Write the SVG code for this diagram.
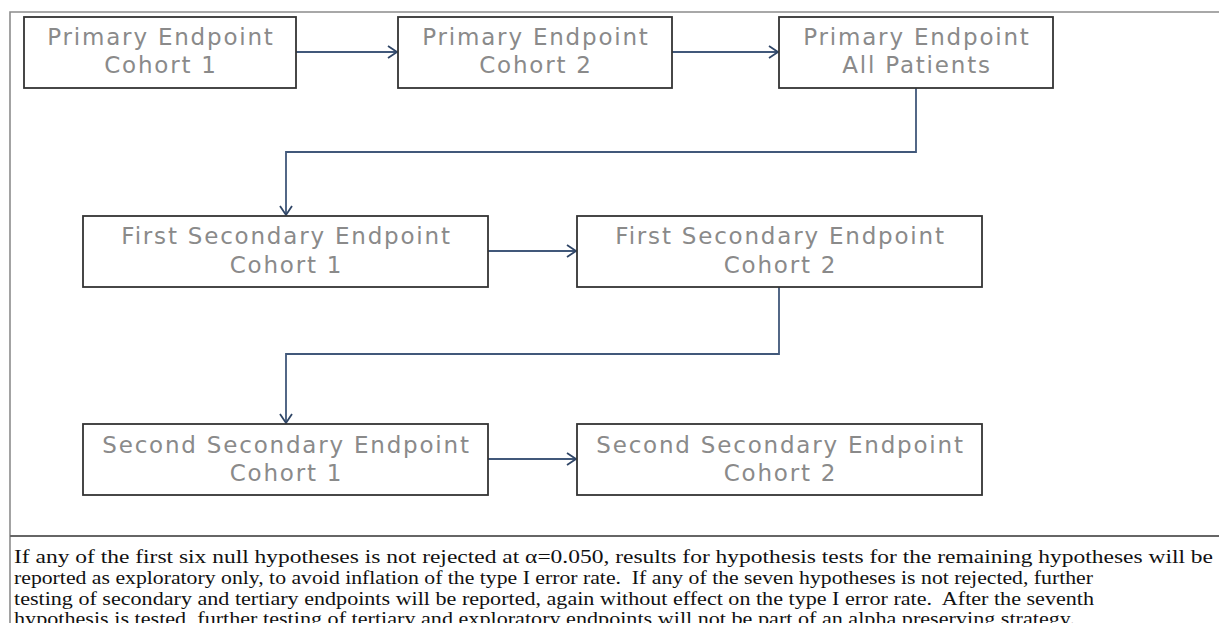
<svg xmlns="http://www.w3.org/2000/svg" width="1219" height="623" viewBox="0 0 1219 623">
<style>
.box{fill:#fff;stroke:#333;stroke-width:1.8}
.lbl{font-family:"DejaVu Sans","Liberation Sans",sans-serif;font-size:23px;letter-spacing:1.8px;fill:#8a8a8a;text-anchor:middle}
.conn{fill:none;stroke:#41587a;stroke-width:1.8}
.note{font-family:"Liberation Serif","Times New Roman",serif;font-size:18.5px;fill:#111}
.frame{stroke:#8c8c8c;stroke-width:1.6;fill:none}
</style>
<defs>
<marker id="arr" markerUnits="userSpaceOnUse" markerWidth="12" markerHeight="14" refX="10" refY="7" orient="auto">
<path d="M1,1 L10,7 L1,13" fill="none" stroke="#2f4566" stroke-width="1.8"/>
</marker>
</defs>
<rect width="1219" height="623" fill="#fff"/>
<g id="frame">
<path class="frame" d="M10,623 V12 H1219"/>
<path d="M10,536 H1219" stroke="#666" stroke-width="2"/>
</g>
<g id="connectors">
<path class="conn" d="M296,52 H397" marker-end="url(#arr)"/>
<path class="conn" d="M672,52 H778" marker-end="url(#arr)"/>
<path class="conn" d="M916,88 V152 H286 V215" marker-end="url(#arr)"/>
<path class="conn" d="M488,251 H576" marker-end="url(#arr)"/>
<path class="conn" d="M779,287 V354 H286 V423" marker-end="url(#arr)"/>
<path class="conn" d="M488,459 H576" marker-end="url(#arr)"/>
</g>
<g id="n1"><rect class="box" x="24" y="17" width="272" height="71"/><text class="lbl" x="161" y="45">Primary Endpoint</text><text class="lbl" x="161" y="73">Cohort 1</text></g>
<g id="n2"><rect class="box" x="398" y="17" width="274" height="71"/><text class="lbl" x="536" y="45">Primary Endpoint</text><text class="lbl" x="536" y="73">Cohort 2</text></g>
<g id="n3"><rect class="box" x="779" y="17" width="274" height="71"/><text class="lbl" x="917" y="45">Primary Endpoint</text><text class="lbl" x="917" y="73">All Patients</text></g>
<g id="n4"><rect class="box" x="83" y="216" width="405" height="71"/><text class="lbl" x="286.5" y="244">First Secondary Endpoint</text><text class="lbl" x="286.5" y="273">Cohort 1</text></g>
<g id="n5"><rect class="box" x="577" y="216" width="405" height="71"/><text class="lbl" x="780.5" y="244">First Secondary Endpoint</text><text class="lbl" x="780.5" y="273">Cohort 2</text></g>
<g id="n6"><rect class="box" x="83" y="424" width="405" height="71"/><text class="lbl" x="286.5" y="453">Second Secondary Endpoint</text><text class="lbl" x="286.5" y="481">Cohort 1</text></g>
<g id="n7"><rect class="box" x="577" y="424" width="405" height="71"/><text class="lbl" x="780.5" y="453">Second Secondary Endpoint</text><text class="lbl" x="780.5" y="481">Cohort 2</text></g>
<g id="note">
<text class="note" x="14" y="563" textLength="1199" lengthAdjust="spacingAndGlyphs">If any of the first six null hypotheses is not rejected at α=0.050, results for hypothesis tests for the remaining hypotheses will be</text>
<text class="note" x="14" y="584" textLength="1079" lengthAdjust="spacingAndGlyphs" xml:space="preserve">reported as exploratory only, to avoid inflation of the type I error rate.  If any of the seven hypotheses is not rejected, further</text>
<text class="note" x="14" y="604.5" textLength="1080" lengthAdjust="spacingAndGlyphs" xml:space="preserve">testing of secondary and tertiary endpoints will be reported, again without effect on the type I error rate.  After the seventh</text>
<text class="note" x="14" y="625" textLength="1061" lengthAdjust="spacingAndGlyphs">hypothesis is tested, further testing of tertiary and exploratory endpoints will not be part of an alpha preserving strategy.</text>
</g>
</svg>
